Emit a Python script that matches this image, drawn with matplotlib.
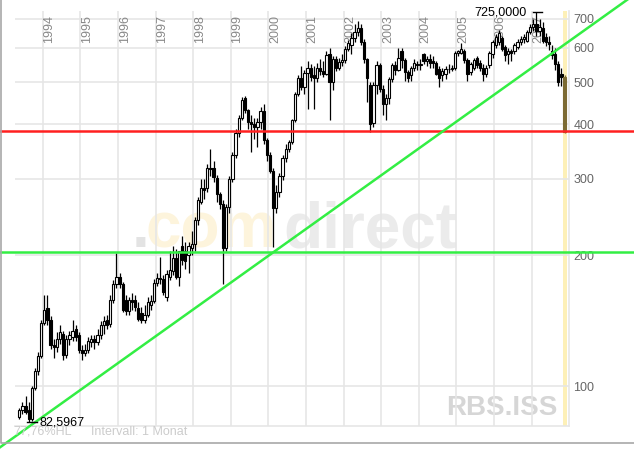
import numpy as np
import matplotlib.pyplot as plt
from matplotlib.lines import Line2D
from matplotlib.ticker import NullLocator

plt.rcParams['font.family'] = ['Liberation Sans', 'DejaVu Sans']

# Monthly OHLC, May 1993 .. Nov 2007 (month index 0 = Jan 1994)
first_month = -8
opens = [
    85, 88, 90, 88, 84, 99, 108, 117,
    140, 151, 142, 124, 123, 128, 132, 118, 128, 130, 135, 131,
    121, 119, 121, 126, 128, 126, 131, 138, 142, 139, 158, 172,
    178, 172, 158, 149, 158, 158, 151, 147, 142, 146, 154, 157,
    173, 177, 176, 160, 178, 184, 197, 178, 210, 205, 200, 208,
    212, 241, 265, 285, 285, 316, 318, 302, 277, 262, 208, 258,
    300, 340, 382, 415, 460, 431, 405, 400, 395, 405, 430, 368,
    340, 312, 257, 280, 305, 335, 352, 365, 410, 470, 513, 487,
    526, 541, 520, 511, 540, 530, 524, 580, 500, 565, 541, 556,
    562, 598, 610, 633, 653, 667, 620, 565, 492, 404, 492, 547,
    484, 445, 460, 510, 547, 535, 590, 562, 528, 520, 541, 550,
    548, 580, 560, 565, 560, 555, 538, 520, 522, 536, 538, 541,
    585, 585, 590, 562, 528, 541, 569, 555, 541, 524, 547, 580,
    608, 620, 633, 602, 580, 590, 591, 602, 620, 630, 624, 653,
    670, 680, 655, 667, 636, 620, 590, 582, 550, 524, 514,
]
highs = [
    89, 92, 95, 92, 100, 110, 120, 142,
    162, 162, 145, 128, 133, 138, 134, 131, 134, 142, 138, 133,
    124, 125, 130, 131, 131, 135, 141, 145, 146, 162, 175, 202,
    182, 174, 162, 160, 164, 162, 156, 152, 154, 160, 162, 176,
    182, 198, 180, 185, 205, 210, 207, 205, 222, 215, 215, 228,
    245, 272, 300, 300, 325, 352, 330, 306, 280, 268, 262, 305,
    345, 390, 420, 462, 465, 435, 420, 415, 415, 440, 445, 372,
    345, 318, 290, 310, 340, 360, 368, 412, 475, 520, 545, 535,
    560, 550, 545, 555, 565, 560, 590, 600, 575, 575, 570, 580,
    605, 625, 650, 680, 694, 680, 630, 570, 500, 500, 560, 555,
    492, 470, 515, 555, 560, 600, 600, 570, 535, 545, 565, 560,
    565, 585, 575, 580, 575, 560, 545, 540, 545, 550, 548, 590,
    595, 615, 598, 570, 558, 570, 575, 562, 550, 548, 590, 625,
    645, 660, 640, 610, 600, 598, 615, 630, 640, 645, 660, 680,
    700, 725, 700, 690, 650, 640, 610, 600, 560, 540, 520,
]
lows = [
    84, 86, 86, 82.5967, 83, 98, 106, 116,
    138, 138, 122, 116, 120, 125, 115, 116, 124, 127, 127, 119,
    115, 117, 119, 123, 122, 124, 128, 132, 135, 137, 155, 168,
    168, 148, 146, 146, 150, 149, 141, 140, 140, 144, 150, 155,
    170, 172, 162, 157, 175, 180, 176, 170, 190, 186, 182, 200,
    205, 235, 262, 270, 280, 305, 295, 265, 255, 172, 205, 250,
    295, 335, 375, 410, 425, 390, 345, 370, 355, 390, 360, 330,
    310, 209, 250, 272, 298, 328, 345, 360, 405, 465, 480, 470,
    435, 505, 435, 500, 520, 515, 520, 410, 480, 530, 535, 545,
    555, 590, 580, 620, 640, 610, 555, 450, 385, 395, 470, 475,
    420, 410, 445, 500, 520, 530, 540, 505, 500, 505, 530, 535,
    535, 550, 545, 540, 540, 520, 487, 505, 510, 525, 530, 535,
    575, 580, 555, 505, 520, 535, 540, 530, 505, 515, 540, 570,
    600, 610, 590, 560, 550, 560, 580, 598, 610, 615, 620, 645,
    655, 640, 640, 615, 605, 595, 565, 535, 490, 490, 383,
]
closes = [
    88, 90, 87, 84, 99, 108, 117, 140,
    150, 142, 124, 123, 128, 133, 118, 128, 131, 134, 130, 121,
    119, 121, 127, 128, 126, 131, 138, 141, 138, 158, 172, 178,
    172, 150, 149, 158, 156, 152, 143, 142, 146, 156, 157, 173,
    177, 176, 165, 181, 185, 197, 178, 205, 195, 194, 210, 212,
    241, 268, 285, 282, 318, 318, 303, 277, 262, 208, 258, 300,
    340, 382, 415, 455, 431, 405, 400, 395, 405, 430, 368, 340,
    312, 257, 280, 305, 335, 352, 365, 410, 470, 513, 487, 526,
    541, 515, 511, 541, 530, 524, 577, 500, 565, 541, 556, 562,
    598, 615, 633, 653, 667, 620, 565, 511, 400, 492, 547, 484,
    445, 460, 510, 547, 535, 569, 562, 528, 513, 541, 555, 548,
    552, 560, 565, 555, 555, 524, 513, 530, 536, 538, 541, 585,
    590, 598, 562, 524, 550, 562, 547, 541, 524, 540, 585, 620,
    636, 650, 598, 577, 590, 585, 608, 620, 630, 636, 653, 670,
    680, 655, 670, 624, 620, 612, 577, 550, 500, 514, 385,
]

years = list(range(1994, 2008))
y_levels = [100, 200, 300, 400, 500, 600, 700]

support_red = 386
support_green = 203.5
trend_pts = [(73.2, 203.5), (127.2, 386)]

o = np.array(opens, float)
h = np.array(highs, float)
l = np.array(lows, float)
c = np.array(closes, float)
months = np.arange(first_month, first_month + len(c))

W, H = 634, 449
fig = plt.figure(figsize=(W / 100, H / 100), dpi=100)
fig.patch.set_facecolor('white')
ax = fig.add_axes([15 / W, 1 - 426 / H, (569.3 - 15) / W, (426 - 11) / H])
ax.set_facecolor('none')
ax.set_yscale('log')
ax.set_xlim(-9.36, 167.5)
ax.set_ylim(80.9, 730)

# grid
grid_c = '#e6e6e6'
for v in y_levels:
    ax.axhline(v, color=grid_c, lw=1.2, zorder=1)
for yr in years:
    ax.axvline((yr - 1994) * 12 - 0.5, color=grid_c, lw=1.2, zorder=1)
    ax.text((yr - 1994) * 12 - 0.3, 0.99, str(yr), transform=ax.get_xaxis_transform(),
            rotation=90, ha='left', va='top', fontsize=9, color='#888888', zorder=1.5)
for s in ['left', 'top']:
    ax.spines[s].set_visible(False)
for s in ['right', 'bottom']:
    ax.spines[s].set_color(grid_c)
    ax.spines[s].set_linewidth(1.2)

ax.yaxis.tick_right()
ax.set_yticks(y_levels)
ax.set_yticklabels([str(v) for v in y_levels])
ax.yaxis.set_minor_locator(NullLocator())
ax.tick_params(axis='y', length=0, pad=3, labelsize=9, labelcolor='#666666')
ax.set_xticks([])

# last month highlight
ax.axvspan(months[-1] - 0.65, months[-1] + 0.65, color='#fdf0b8', lw=0, zorder=0.5)

# candles
ax.vlines(months[:-1], l[:-1], h[:-1], color='black', lw=0.9, zorder=3)
up = c >= o
face = np.where(up, 'white', 'black')
body_lo = np.minimum(o, c)
body_h = np.maximum(np.abs(c - o), 0.5)
ax.bar(months[:-1], body_h[:-1], bottom=body_lo[:-1], width=0.72,
       color=face[:-1], edgecolor='black', linewidth=0.8, zorder=4)
olive = '#7b6a33'
ax.vlines(months[-1], l[-1], h[-1], color=olive, lw=0.9, zorder=3)
ax.bar(months[-1], body_h[-1], bottom=body_lo[-1], width=0.8,
       color=olive, edgecolor=olive, linewidth=0.8, zorder=4)

# support / trend lines, running across the whole picture
xs = np.array([-16, 190])
ax.plot(xs, [support_red] * 2, color='#ff2020', lw=1.8, clip_on=False, zorder=5)
ax.plot(xs, [support_green] * 2, color='#33ee44', lw=1.8, clip_on=False, zorder=5)
(k1, p1), (k2, p2) = trend_pts
slope = (np.log10(p2) - np.log10(p1)) / (k2 - k1)
ax.plot(xs, 10 ** (np.log10(p1) + (xs - k1) * slope), color='#33ee44', lw=1.8,
        clip_on=False, zorder=5)

# extreme markers
i_hi = int(np.argmax(h))
i_lo = int(np.argmin(l))
k_hi, k_lo = months[i_hi], months[i_lo]
ax.plot([k_hi - 1.2, k_hi + 1.9], [h[i_hi]] * 2, color='black', lw=1, zorder=5, clip_on=False)
ax.text(k_hi - 3.2, h[i_hi], f"{h[i_hi]:.4f}".replace('.', ','), ha='right', va='center',
        fontsize=9, color='black', zorder=6, clip_on=False)
ax.plot([k_lo - 0.5, k_lo + 2.7], [l[i_lo]] * 2, color='black', lw=1, zorder=5)
ax.text(k_lo + 3.3, l[i_lo], f"{l[i_lo]:.4f}".replace('.', ','), ha='left', va='center',
        fontsize=9, color='black', zorder=6)

# watermarks
wm = dict(fontsize=46, fontweight='bold', va='baseline', zorder=-1)
fig.text(132 / W, 1 - 247 / H, '.', color='#e3e3e3', **wm)
fig.text(146 / W, 1 - 247 / H, 'com', color='#fdf4dc', **wm)
fig.text(283 / W, 1 - 247 / H, 'direct', color='#ebebeb', **wm)
fig.text(446 / W, 1 - 415 / H, 'RBS.ISS', fontsize=20, fontweight='bold', color='#d6d6d6',
         va='baseline', zorder=-1)

fig.text(13 / W, 1 - 432 / H, '77,76%HL', fontsize=9, color='#cccccc', va='center')
fig.text(91 / W, 1 - 432 / H, 'Intervall: 1 Monat', fontsize=9, color='#cccccc', va='center')

# outer frame (left and bottom)
fig.add_artist(Line2D([0.0012, 0.0012, 1], [1, 1 - 443 / H, 1 - 443 / H],
                      transform=fig.transFigure, color='#a8a8a8', lw=1.2))

fig.savefig('out.png', dpi=100)
